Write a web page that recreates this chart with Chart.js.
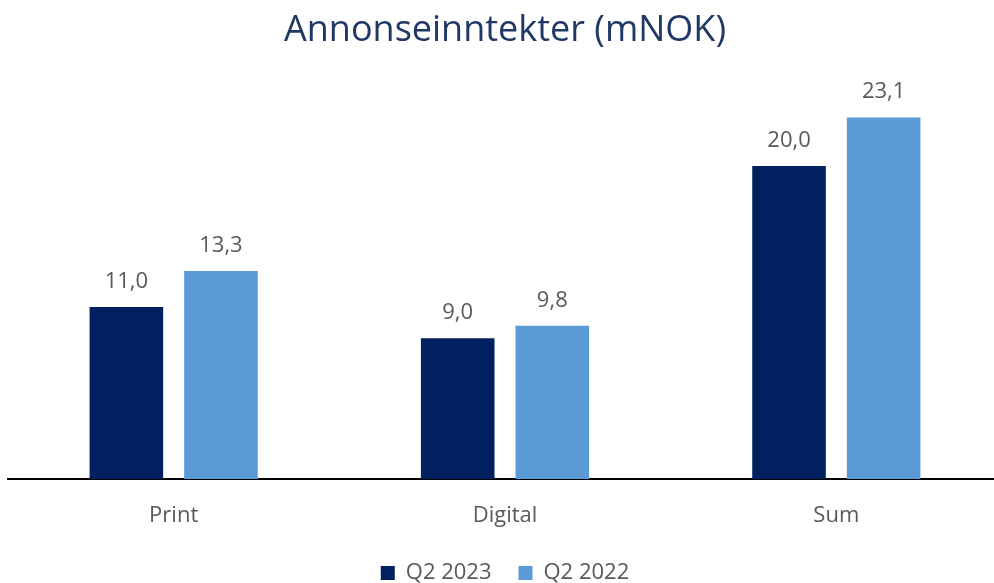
<!DOCTYPE html>
<html>
<head>
<meta charset="utf-8">
<script src="https://cdn.jsdelivr.net/npm/chart.js@4.4.1/dist/chart.umd.min.js"></script>
<style>
  html, body { margin: 0; padding: 0; background: #ffffff; overflow: hidden; }
  #wrap { position: relative; width: 1002px; height: 583px; }
</style>
</head>
<body>
<div id="wrap"><canvas id="c"></canvas></div>
<script>
const chartTitle = 'Annonseinntekter (mNOK)';
const categories = ['Print', 'Digital', 'Sum'];
const seriesNames = ['Q2 2023', 'Q2 2022'];
const q2_2023 = [11.0, 9.0, 20.0];
const q2_2022 = [13.3, 9.8, 23.1];
const seriesColors = ['#002060', '#5B9BD5'];

const FONT = '"Open Sans", Lato, sans-serif';

const valueLabels = {
  id: 'valueLabels',
  afterDatasetsDraw(chart) {
    const ctx = chart.ctx;
    ctx.save();
    ctx.font = '22px ' + FONT;
    ctx.fillStyle = '#595959';
    ctx.textAlign = 'center';
    ctx.textBaseline = 'alphabetic';
    chart.data.datasets.forEach((ds, i) => {
      chart.getDatasetMeta(i).data.forEach((bar, j) => {
        const v = ds.data[j];
        ctx.fillText(v.toFixed(1).replace('.', ','), bar.x, bar.y - 19);
      });
    });
    ctx.restore();
  }
};

new Chart(document.getElementById('c'), {
  type: 'bar',
  data: {
    labels: categories,
    datasets: [
      { label: seriesNames[0], data: q2_2023, backgroundColor: seriesColors[0] },
      { label: seriesNames[1], data: q2_2022, backgroundColor: seriesColors[1] }
    ]
  },
  options: {
    responsive: true,
    maintainAspectRatio: false,
    animation: false,
    layout: { padding: { top: 0, left: 8, right: 0, bottom: -11 } },
    categoryPercentage: 0.571,
    barPercentage: 0.778,
    plugins: {
      tooltip: { enabled: false },
      title: {
        display: true,
        text: chartTitle,
        color: '#203864',
        font: { family: FONT, size: 36, weight: 'normal' },
        padding: { top: 9, bottom: 35.5 }
      },
      legend: {
        position: 'bottom',
        labels: {
          color: '#595959',
          font: { family: FONT, size: 22 },
          boxWidth: 14,
          boxHeight: 14,
          padding: 27
        }
      }
    },
    scales: {
      x: {
        grid: { display: false },
        border: { display: true, color: '#000000', width: 2 },
        ticks: { color: '#595959', font: { family: FONT, size: 22 }, padding: 15.5 },
        afterFit(scale) { scale.height += -9.5; }
      },
      y: {
        display: false,
        min: 0,
        max: 25
      }
    }
  },
  plugins: [valueLabels]
});
</script>
</body>
</html>
